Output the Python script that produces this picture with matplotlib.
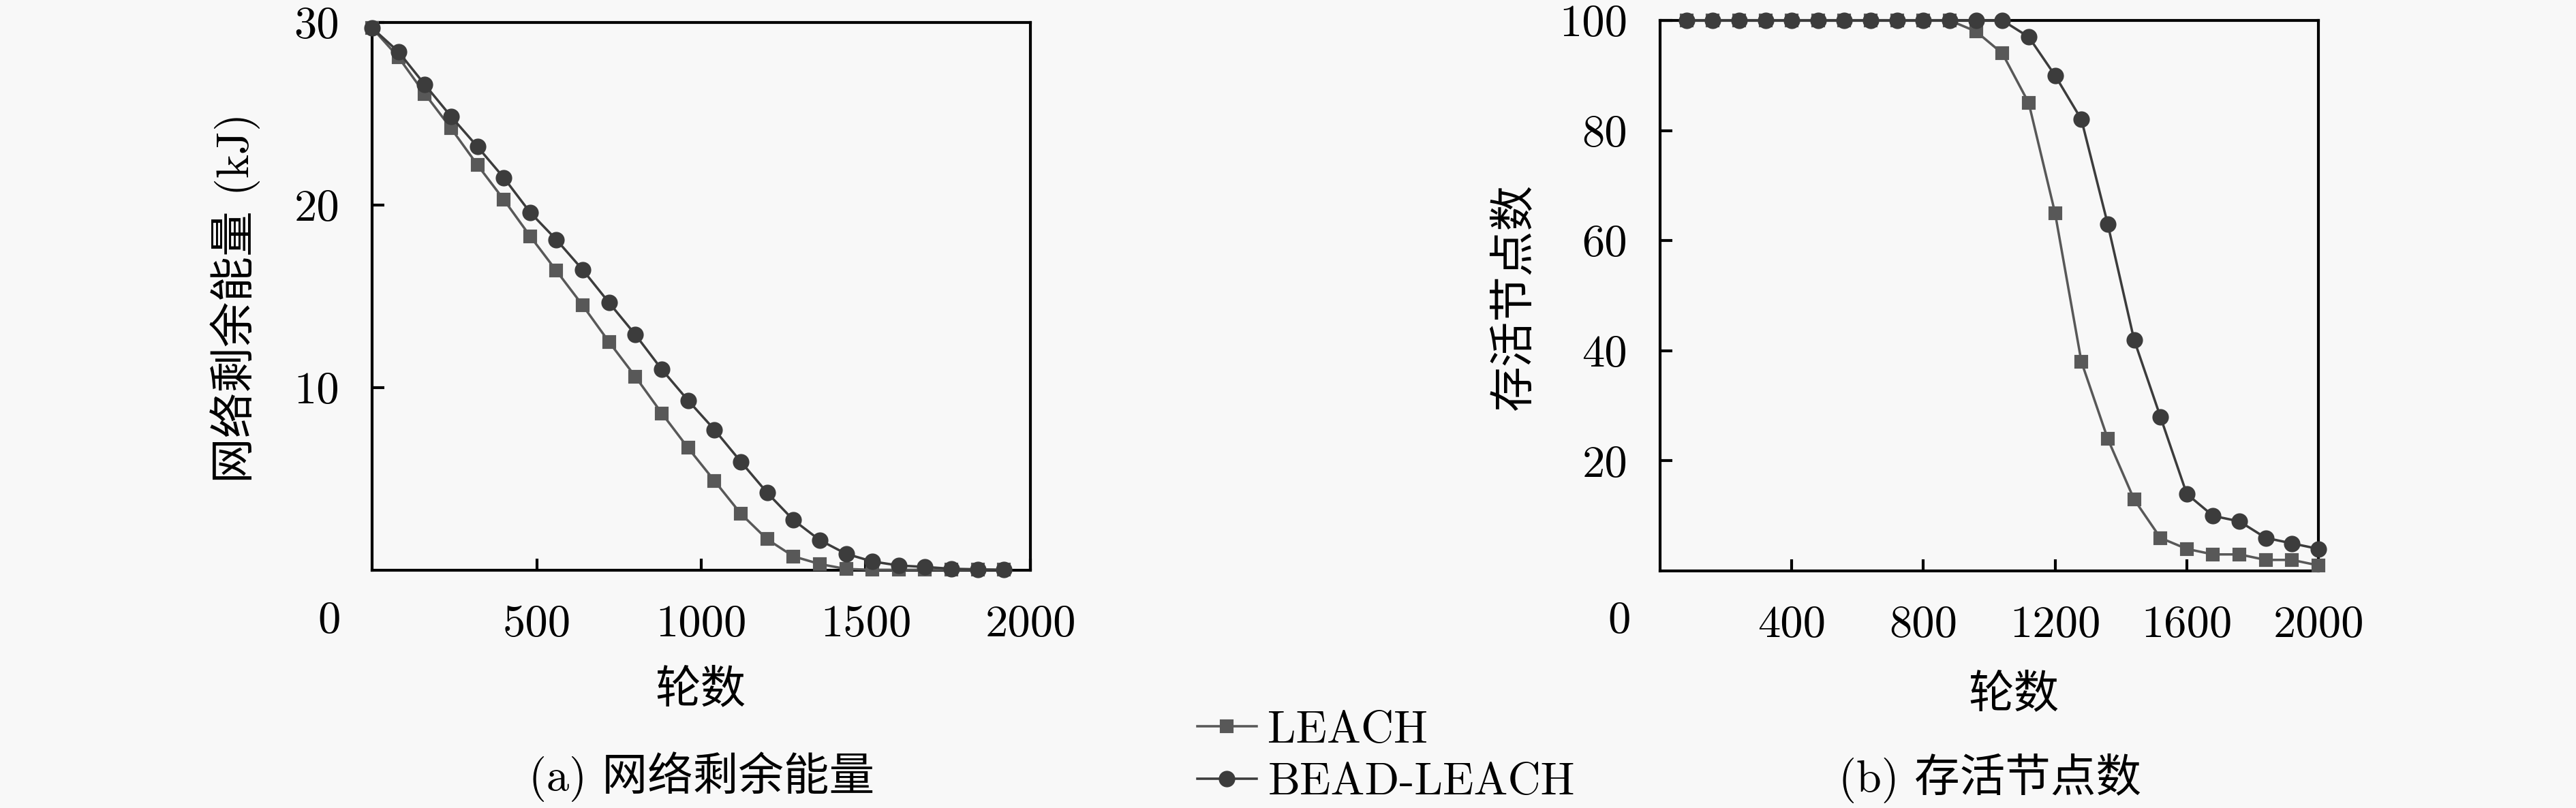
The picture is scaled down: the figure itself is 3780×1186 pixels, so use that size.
import matplotlib
matplotlib.use("Agg")
import matplotlib.pyplot as plt

# ---------------- data ----------------
rounds_a = [0, 80, 160, 240, 320, 400, 480, 560, 640, 720, 800, 880, 960,
            1040, 1120, 1200, 1280, 1360, 1440, 1520, 1600, 1680, 1760, 1840, 1920]
energy_leach = [29.7, 28.1, 26.1, 24.2, 22.2, 20.3, 18.3, 16.4, 14.5, 12.5, 10.6, 8.6, 6.7,
                4.9, 3.1, 1.7, 0.76, 0.34, 0.07, 0.02, 0.02, 0.02, 0.02, 0.02, 0.02]
energy_bead = [29.7, 28.4, 26.6, 24.85, 23.2, 21.5, 19.6, 18.1, 16.45, 14.65, 12.9, 11.0, 9.3,
               7.7, 5.95, 4.25, 2.75, 1.65, 0.9, 0.48, 0.26, 0.18, 0.08, 0.05, 0.02]

rounds_b = [80, 160, 240, 320, 400, 480, 560, 640, 720, 800, 880, 960, 1040,
            1120, 1200, 1280, 1360, 1440, 1520, 1600, 1680, 1760, 1840, 1920, 2000]
alive_leach = [100, 100, 100, 100, 100, 100, 100, 100, 100, 100, 100, 98, 94,
               85, 65, 38, 24, 13, 6, 4, 3, 3, 2, 2, 1]
alive_bead = [100, 100, 100, 100, 100, 100, 100, 100, 100, 100, 100, 100, 100,
              97, 90, 82, 63, 42, 28, 14, 10, 9, 6, 5, 4]

series_names = ["LEACH", "BEAD-LEACH"]
xticks_a = [500, 1000, 1500, 2000]
yticks_a = [10, 20, 30]
xticks_b = [400, 800, 1200, 1600, 2000]
yticks_b = [20, 40, 60, 80, 100]
xlabel = "轮数"
ylabel_a = "网络剩余能量 (kJ)"
ylabel_b = "存活节点数"
caption_a = "(a) 网络剩余能量"
caption_b = "(b) 存活节点数"

# ---------------- style ----------------
W, H = 3780, 1186
DPI = 300
BG = "#f8f8f8"
FONTS = ["cmr10", "Noto Sans CJK SC", "DejaVu Sans"]
plt.rcParams["font.family"] = FONTS
plt.rcParams["axes.formatter.use_mathtext"] = True
FS = 16

c_leach = "#585858"
c_bead = "#3c3c3c"

fig = plt.figure(figsize=(W / DPI, H / DPI), dpi=DPI, facecolor=BG)


def px_axes(l, t, r, b):
    return fig.add_axes([l / W, 1 - b / H, (r - l) / W, (b - t) / H])


def style(ax, xt, yt, xmax, ymax):
    ax.set_facecolor(BG)
    ax.set_xlim(0, xmax)
    ax.set_ylim(0, ymax)
    ax.set_xticks(xt)
    ax.set_xticklabels([str(v) for v in xt])
    ax.set_yticks(yt)
    ax.set_yticklabels([str(v) for v in yt])
    ax.tick_params(direction="in", length=4.2, width=1.0, labelsize=FS,
                   top=False, right=False, color="black")
    ax.tick_params(axis="x", pad=12.0)
    ax.tick_params(axis="y", pad=11.5)
    for s in ax.spines.values():
        s.set_linewidth(1.0)
        s.set_color("black")
    for lab in ax.get_xticklabels() + ax.get_yticklabels():
        lab.set_family(FONTS)


ax1 = px_axes(546, 33, 1512, 837)
style(ax1, xticks_a, yticks_a, 2000, 30)
l1, = ax1.plot(rounds_a, energy_leach, color=c_leach, lw=0.85, marker="s", ms=3.8,
               mfc=c_leach, mec=c_leach, clip_on=False, zorder=3)
l2, = ax1.plot(rounds_a, energy_bead, color=c_bead, lw=0.85, marker="o", ms=4.8,
               mfc=c_bead, mec=c_bead, clip_on=False, zorder=4)

ax2 = px_axes(2436, 30, 3402, 838)
style(ax2, xticks_b, yticks_b, 2000, 100)
ax2.plot(rounds_b, alive_leach, color=c_leach, lw=0.85, marker="s", ms=3.8,
         mfc=c_leach, mec=c_leach, clip_on=False, zorder=3)
ax2.plot(rounds_b, alive_bead, color=c_bead, lw=0.85, marker="o", ms=4.8,
         mfc=c_bead, mec=c_bead, clip_on=False, zorder=4)


def ftext(x, y, s, **kw):
    fig.text(x / W, 1 - y / H, s, fontsize=FS, family=FONTS, ha="center", va="center", **kw)


# origin labels
ftext(483, 912, "0")
ftext(2376, 912, "0")
# axis labels
ftext(1028, 1013, xlabel)
ftext(2955, 1020, xlabel)
ftext(345, 437, ylabel_a, rotation=90)
ftext(2222, 435, ylabel_b, rotation=90)
# captions
ftext(1030, 1140, caption_a)
ftext(2920, 1142, caption_b)

# legend
leg = fig.legend([l1, l2], series_names, loc="upper left",
                 bbox_to_anchor=(1757 / W, 1 - 1043 / H), frameon=False,
                 numpoints=1, handlelength=1.3, handletextpad=0.25,
                 labelspacing=0.25, borderpad=0, borderaxespad=0,
                 prop={"family": FONTS, "size": FS})

fig.savefig("out.png", dpi=DPI, facecolor=BG)
